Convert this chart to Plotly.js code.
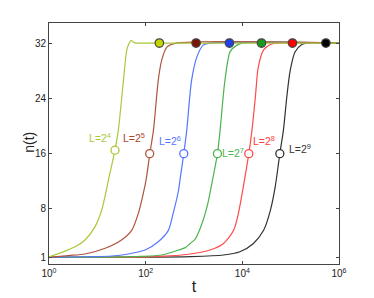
<!DOCTYPE html>
<html>
<head>
<meta charset="utf-8">
<script src="https://cdn.plot.ly/plotly-3.0.1.min.js"></script>
<style>html,body{margin:0;padding:0;background:#fff;}#chart{width:374px;height:298px;}</style>
</head>
<body>
<div id="chart"></div>
<script>
// Curve data: t values and n(t) values
var t_L4 = [1, 2.14, 3.55, 5.56, 8.91, 12.3, 17.0, 23.2, 27.2, 34.7, 40.7, 45.7, 50.1, 55.6, 63.1, 79.4, 1e6];
var n_L4 = [1.05, 1.9, 2.55, 3.5, 5.4, 7.8, 12.2, 16.55, 19.4, 26.6, 31, 32.0, 32.4, 32.1, 32.0, 32, 32];

var t_L5 = [1, 2.51, 5.56, 14.5, 31.6, 51.3, 70.8, 89.1, 102, 122, 145, 182, 214, 275, 407, 1e6];
var n_L5 = [1.0, 1.25, 1.48, 2.3, 3.5, 4.9, 7.4, 10.2, 12.2, 16, 19.4, 26.6, 29.5, 31.4, 31.95, 32];

var t_L6 = [1, 6.31, 20.0, 43.7, 97.7, 182, 295, 372, 479, 513, 614, 708, 891, 1148, 1549, 2138, 1e6];
var n_L6 = [1.0, 1.08, 1.19, 1.48, 2.05, 3.25, 4.9, 7.4, 10.7, 12.2, 16, 19.4, 26.6, 30, 31.7, 32, 32];

var t_L7 = [1, 15.8, 79.4, 214, 479, 661, 832, 1047, 1349, 1862, 2344, 3055, 3467, 4365, 5623, 7762, 10000, 1e6];
var n_L7 = [1.0, 1.03, 1.12, 1.33, 2.05, 2.4, 3.0, 3.6, 5.2, 8.3, 11.7, 16, 19.4, 26.6, 30.8, 31.7, 32, 32];

var t_L8 = [1, 100, 316, 832, 2138, 4074, 6607, 8318, 10471, 13614, 15849, 18621, 21380, 27542, 38019, 50119, 1e6];
var n_L8 = [1.0, 1.05, 1.2, 1.48, 2.05, 3.0, 4.9, 7.4, 11.2, 16, 19.4, 24.2, 28.5, 31, 31.8, 32, 32];

var t_L9 = [1, 100, 813, 4074, 8913, 16982, 27542, 38019, 47863, 59704, 70795, 83176, 97724, 123027, 169824, 223872, 1e6];
var n_L9 = [1.0, 1.03, 1.1, 1.33, 1.8, 3.0, 4.9, 7.8, 11.2, 16, 19.4, 24.2, 28, 30.7, 31.8, 32, 32];

// Half-way (open) markers and saturation (filled) markers
var half_t = [23.2, 121, 614, 3055, 13614, 59704];
var half_n = [16.5, 16, 16, 16, 16, 16];
var sat_t = [192, 1105, 5410, 24900, 109000, 535000];
var sat_n = [32, 32, 32, 32, 32, 32];

var labels = ["L=2<sup>4</sup>", "L=2<sup>5</sup>", "L=2<sup>6</sup>", "L=2<sup>7</sup>", "L=2<sup>8</sup>", "L=2<sup>9</sup>"];
var xTickVals = [1, 100, 10000, 1000000];
var xTickText = ["10<sup>0</sup>", "10<sup>2</sup>", "10<sup>4</sup>", "10<sup>6</sup>"];
var yTickVals = [1, 8, 16, 24, 32];
var yTickText = ["1", "8", "16", "24", "32"];

var lineColors = ["#a9c83a", "#b0533e", "#5577ff", "#4cb44c", "#ff4a4a", "#333333"];
var fillColors = ["#c4d600", "#7a1400", "#2040e8", "#1a9a1a", "#ff0000", "#000000"];
var labelColors = ["#a9c83a", "#a8452f", "#5577ff", "#4cb44c", "#ff3b3b", "#333333"];

var ts = [t_L4, t_L5, t_L6, t_L7, t_L8, t_L9];
var ns = [n_L4, n_L5, n_L6, n_L7, n_L8, n_L9];

var traces = [];
for (var i = ts.length - 1; i >= 0; i--) {
  traces.push({x: ts[i], y: ns[i], mode: 'lines', type: 'scatter',
    line: {color: lineColors[i], width: 1.2, shape: 'spline', smoothing: 0.75},
    hoverinfo: 'skip', showlegend: false});
}
for (var i = 0; i < half_t.length; i++) {
  traces.push({x: [half_t[i]], y: [half_n[i]], mode: 'markers', type: 'scatter',
    marker: {symbol: 'circle', size: 8, color: '#ffffff', line: {color: lineColors[i], width: 1.3}},
    showlegend: false});
  traces.push({x: [sat_t[i]], y: [sat_n[i]], mode: 'markers', type: 'scatter',
    marker: {symbol: 'circle', size: 8.5, color: fillColors[i], line: {color: '#444444', width: 1.2}},
    showlegend: false});
}

var labelPos = [[1.05, 18.3], [1.76, 18.3], [2.50, 17.9], [3.80, 16.1], [4.45, 17.9], [5.19, 16.8]];
var annotations = labels.map(function (txt, i) {
  return {x: labelPos[i][0], y: labelPos[i][1], xref: 'x', yref: 'y', text: txt, showarrow: false,
    font: {family: 'Liberation Sans, Arial, sans-serif', size: 10.5, color: labelColors[i]},
    xanchor: 'center', yanchor: 'middle'};
});
// y-axis title placed as rotated text
annotations.push({x: -0.07, y: 0.506, xref: 'paper', yref: 'paper', text: 'n(t)', showarrow: false,
  textangle: -90, xanchor: 'center', yanchor: 'middle',
  font: {family: 'Liberation Sans, Arial, sans-serif', size: 14, color: '#222'}});

var layout = {
  width: 374, height: 298,
  margin: {l: 49, r: 35, t: 23, b: 34},
  paper_bgcolor: '#ffffff', plot_bgcolor: '#ffffff',
  font: {family: 'Liberation Sans, Arial, sans-serif', size: 10, color: '#222'},
  showlegend: false,
  xaxis: {type: 'log', range: [0, 6], tickvals: xTickVals, ticktext: xTickText,
    ticks: 'inside', ticklen: 3, tickcolor: '#444', showline: true, linecolor: '#444', linewidth: 1,
    mirror: 'allticks', showgrid: false, zeroline: false,
    tickfont: {size: 10, color: '#222'},
    title: {text: 't', font: {size: 16, color: '#222'}, standoff: 2}},
  yaxis: {range: [0.03, 34.9], tickvals: yTickVals, ticktext: yTickText,
    ticks: 'inside', ticklen: 3, tickcolor: '#444', showline: true, linecolor: '#444', linewidth: 1,
    mirror: 'allticks', showgrid: false, zeroline: false,
    tickfont: {size: 10, color: '#222'}},
  annotations: annotations
};

Plotly.newPlot('chart', traces, layout, {displayModeBar: false, staticPlot: true});
</script>
</body>
</html>
